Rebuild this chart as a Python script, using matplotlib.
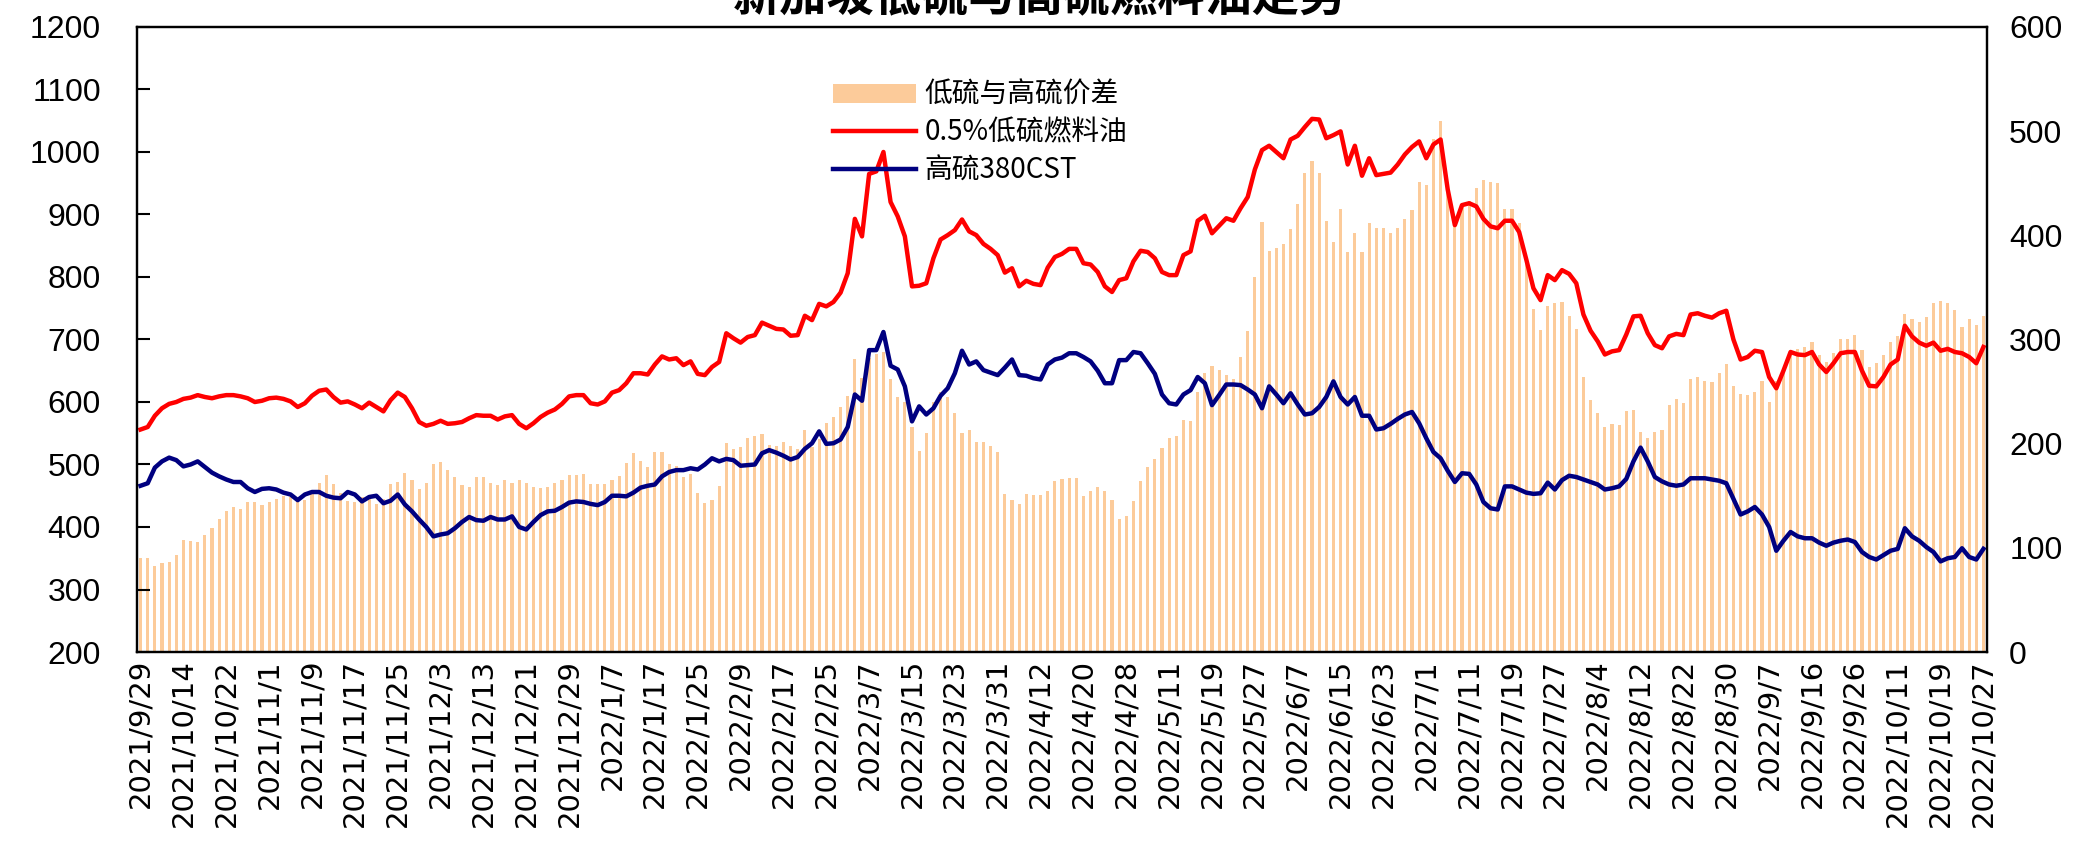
import numpy as np
import matplotlib.pyplot as plt

plt.rcParams['font.family'] = ['Noto Sans CJK SC', 'DejaVu Sans']

# ============================
# 数据（按交易日，单位：美元/吨）
# ============================
tick_dates = [
    '2021/9/29', '2021/10/14', '2021/10/22', '2021/11/1', '2021/11/9', '2021/11/17',
    '2021/11/25', '2021/12/3', '2021/12/13', '2021/12/21', '2021/12/29', '2022/1/7',
    '2022/1/17', '2022/1/25', '2022/2/9', '2022/2/17', '2022/2/25', '2022/3/7',
    '2022/3/15', '2022/3/23', '2022/3/31', '2022/4/12', '2022/4/20', '2022/4/28',
    '2022/5/11', '2022/5/19', '2022/5/27', '2022/6/7', '2022/6/15', '2022/6/23',
    '2022/7/1', '2022/7/11', '2022/7/19', '2022/7/27', '2022/8/4', '2022/8/12',
    '2022/8/22', '2022/8/30', '2022/9/7', '2022/9/16', '2022/9/26', '2022/10/11',
    '2022/10/19', '2022/10/27',
]

# 0.5%低硫燃料油
ls_price = [
    556, 560, 578, 590, 597, 600, 605, 607, 611, 608,
    606, 609, 611, 611, 609, 606, 600, 602, 606, 607,
    605, 601, 592, 598, 610, 618, 620, 608, 599, 601,
    596, 590, 599, 592, 585, 603, 615, 608, 590, 568,
    562, 565, 570, 565, 566, 568, 574, 579, 578, 578,
    572, 577, 579, 565, 558, 566, 576, 583, 588, 597,
    609, 611, 611, 598, 596, 601, 615, 619, 630, 646,
    646, 644, 660, 673, 668, 670, 659, 665, 645, 643,
    656, 664, 710, 702, 695, 704, 707, 727, 722, 717,
    716, 706, 707, 738, 731, 757, 753, 760, 775, 806,
    893, 865, 965, 969, 1000, 920, 897, 865, 785, 786,
    790, 830, 860, 867, 875, 892, 873, 867, 853, 845,
    835, 807, 814, 785, 794, 789, 787, 815, 832, 837,
    845, 845, 822, 820, 808, 785, 776, 795, 798, 825,
    842, 840, 830, 808, 803, 803, 835, 841, 890, 898,
    870, 882, 894, 890, 910, 928, 972, 1003, 1010, 1000,
    990, 1020, 1026, 1040, 1053, 1052, 1022, 1027, 1033, 980,
    1010, 962, 990, 963, 965, 967, 980, 996, 1008, 1017,
    990, 1012, 1020, 940, 883, 915, 918, 913, 893, 881,
    878, 890, 890, 872, 828, 782, 763, 803, 795, 811,
    805, 790, 740, 714, 697, 676, 681, 683, 708, 737,
    738, 710, 691, 686, 705, 709, 707, 740, 742, 738,
    735, 742, 746, 700, 668, 672, 682, 680, 640, 622,
    650, 680, 676, 675, 680, 660, 648, 662, 678, 680,
    680, 650, 626, 625, 640, 660, 668, 722, 705, 695,
    690, 695, 682, 685, 680, 678, 672, 662, 688,
]

# 高硫380CST
hs_price = [
    466, 470, 495, 505, 511, 507, 497, 500, 505, 496,
    487, 481, 476, 472, 472, 462, 456, 461, 462, 460,
    455, 452, 443, 452, 456, 456, 450, 447, 446, 456,
    452, 441, 448, 450, 438, 442, 452, 436, 425, 412,
    400, 385, 388, 390, 398, 408, 416, 411, 410, 416,
    412, 412, 417, 400, 396, 408, 419, 425, 426, 432,
    439, 441, 440, 437, 435, 440, 450, 450, 449, 455,
    463, 466, 468, 481, 488, 491, 491, 494, 492, 500,
    510, 505, 509, 507, 498, 499, 500, 518, 523, 519,
    514, 508, 512, 525, 534, 553, 533, 534, 540, 560,
    612, 602, 683, 683, 712, 658, 652, 625, 569, 593,
    580, 590, 610, 622, 646, 682, 660, 665, 651, 647,
    643, 655, 668, 643, 642, 638, 636, 660, 668, 671,
    678, 678, 672, 665, 650, 630, 630, 667, 667, 680,
    678, 662, 645, 612, 598, 596, 612, 619, 640, 630,
    595, 611, 628, 628, 627, 620, 612, 590, 625, 612,
    598, 614, 596, 580, 582, 592, 608, 633, 608, 596,
    608, 578, 578, 556, 558, 565, 573, 580, 584, 566,
    542, 520, 510, 490, 472, 486, 485, 468, 440, 430,
    428, 465, 465, 460, 455, 453, 454, 471, 460, 475,
    482, 480, 476, 472, 468, 460, 462, 465, 477, 505,
    527, 505, 480, 473, 468, 466, 468, 478, 478, 478,
    476, 474, 470, 445, 420, 425, 432, 420, 400, 362,
    378, 392, 385, 382, 382, 375, 370, 375, 378, 380,
    376, 360, 352, 348, 355, 362, 365, 398, 385, 378,
    368, 360, 345, 350, 352, 366, 352, 348, 365,
]

# 价差 = 低硫 - 高硫（右轴）
spread = np.array(ls_price) - np.array(hs_price)
x = np.arange(len(ls_price))

# ============================
# 作图
# ============================
fig = plt.figure(figsize=(20.92, 8.43), dpi=100)
ax1 = fig.add_axes([137 / 2092, 1 - 652 / 843, 1850 / 2092, 625 / 843])
ax2 = ax1.twinx()

ax2.bar(x, spread, width=0.45, color='#FCCB9A', label='低硫与高硫价差')
ax1.plot(x, ls_price, color='#FF0000', lw=3.2, label='0.5%低硫燃料油')
ax1.plot(x, hs_price, color='#000080', lw=3.2, label='高硫380CST')

# 折线画在柱子上面
ax1.set_zorder(ax2.get_zorder() + 1)
ax1.patch.set_visible(False)

ax1.set_xlim(-0.5, len(x) - 0.5)
ax1.set_ylim(200, 1200)
ax1.set_yticks(np.arange(200, 1201, 100))
ax2.set_ylim(0, 600)
ax2.set_yticks(np.arange(0, 601, 100))

ax1.set_xticks(np.arange(0, len(x), 6))
ax1.set_xticklabels(tick_dates, rotation=90, fontsize=21, family='DejaVu Sans')
ax1.tick_params(axis='x', length=0, pad=5)
ax1.tick_params(axis='y', direction='in', length=9, width=1.5, pad=26)
for lab in ax1.get_yticklabels():
    lab.set_fontsize(23)
    lab.set_family('Liberation Sans')
ax2.tick_params(axis='y', length=0, pad=16)
for lab in ax2.get_yticklabels():
    lab.set_fontsize(23)
    lab.set_family('Liberation Sans')

for ax in (ax1, ax2):
    for sp in ax.spines.values():
        sp.set_linewidth(1.6)
        sp.set_color('black')

# 图例
h1, l1 = ax2.get_legend_handles_labels()
h2, l2 = ax1.get_legend_handles_labels()
fig.legend(h1 + h2, l1 + l2, loc='upper left', bbox_to_anchor=(833 / 2092, 1 - 80 / 843),
           frameon=False, fontsize=20, handlelength=3.0, handletextpad=0.3,
           labelspacing=0.28, borderpad=0, borderaxespad=0)

# 标题（原图顶部被裁掉一半）
fig.text(0.497, 1 - 11 / 843, '新加坡低硫与高硫燃料油走势', ha='center', va='baseline',
         fontsize=34, fontweight='bold')

fig.savefig('out.png', dpi=100)
